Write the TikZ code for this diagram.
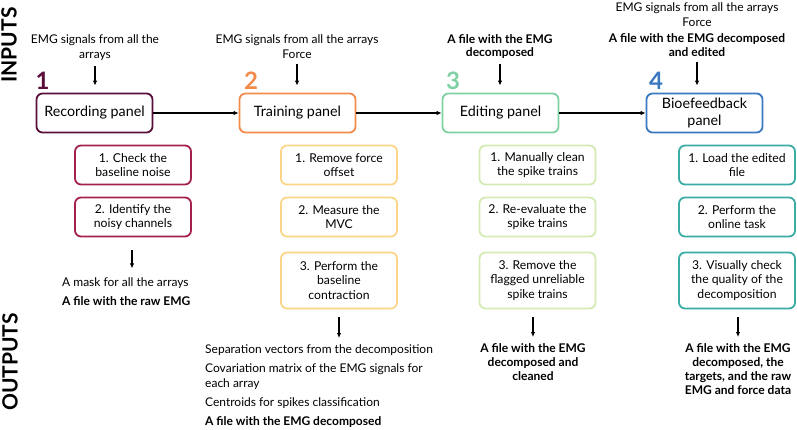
\documentclass[tikz,border=0pt]{standalone}
\usepackage{fontspec}
\setmainfont{Lato}
\usetikzlibrary{arrows.meta,calc}
\definecolor{cOne}{HTML}{5A0F3A}
\definecolor{cTwo}{HTML}{F28B4B}
\definecolor{cThree}{HTML}{7FD1A3}
\definecolor{cFour}{HTML}{3A78C0}
\definecolor{sOne}{HTML}{A3204F}
\definecolor{sTwo}{HTML}{FCD588}
\definecolor{sThree}{HTML}{D3EBB2}
\definecolor{sFour}{HTML}{3AACA5}
\tikzset{
  mainbox/.style={draw=#1, line width=1.8pt, rounded corners=6pt, minimum width=116pt, minimum height=39pt, align=center, inner sep=2pt, font=\fontsize{14.3}{17.5}\selectfont, fill=white},
  subbox/.style={draw=#1, line width=1.8pt, rounded corners=6pt, minimum width=116pt, minimum height=39pt, align=center, inner sep=2pt, font=\fontsize{12.2}{14.5}\selectfont},
  numlab/.style={text=#1, font=\fontsize{24}{24}\selectfont\bfseries, inner sep=0pt, anchor=base west},
  intext/.style={align=center, inner sep=1pt, font=\fontsize{12}{15.5}\selectfont},
  outtext/.style={inner sep=0pt, font=\fontsize{12}{15}\selectfont},
  arr/.style={line width=1.2pt, -{Latex[length=5pt,width=4.5pt]}},
  side/.style={rotate=90, font=\fontsize{21}{21}\selectfont\bfseries, inner sep=0pt}
}
\begin{document}
\begin{tikzpicture}[x=1pt,y=-1pt]
\useasboundingbox (0,0) rectangle (797,430);
% side labels
\node[side] (inputs) at (9,45) {INPUTS};
\node[side] (outputs) at (10,362) {OUTPUTS};
% main boxes
\node[mainbox=cOne] (rec) at (94.5,113) {Recording panel};
\node[mainbox=cTwo] (train) at (297.5,113) {Training panel};
\node[mainbox=cThree] (edit) at (500.5,113) {Editing panel};
\node[mainbox=cFour] (bio) at (704.5,113) {Bioefeedback\\panel};
% numbers
\node[numlab=cOne] (n1) at (35.5,89.5) {1};
\node[numlab=cTwo] (n2) at (244,89.5) {2};
\node[numlab=cThree] (n3) at (446,89.5) {3};
\node[numlab=cFour] (n4) at (649,89.5) {4};
% inputs
\node[intext] (in1) at (95,47.5) {EMG signals from all the\\arrays};
\node[intext] (in2) at (297,46.5) {EMG signals from all the arrays\\Force};
\node[intext, font=\fontsize{12}{13.5}\selectfont\bfseries] (in3) at (500,46.5) {A file with the EMG\\decomposed};
\node[intext, align=center] (in4) at (697,29.5) {EMG signals from all the arrays\\Force\\\textbf{A file with the EMG decomposed}\\[-1.5pt]\textbf{and edited}};
\draw[arr] ([yshift=-4pt]in1.south) -- ([yshift=7pt]in1.south |- rec.north);
\draw[arr] ([yshift=-4pt]in2.south) -- ([yshift=7pt]in2.south |- train.north);
\draw[arr] ([yshift=-4pt]in3.south) -- ([yshift=7pt]in3.south |- edit.north);
\draw[arr] ([yshift=-4pt]in4.south) -- ([yshift=7pt]in4.south |- bio.north);
% horizontal
\draw[arr] (rec) -- (train);
\draw[arr] (train) -- (edit);
\draw[arr] (edit) -- (bio);
% sub boxes column 1
\node[subbox=sOne] (a1) at (133,165) {1. Check the\\baseline noise};
\node[subbox=sOne] (a2) at (133,217) {2. Identify the\\noisy channels};
% column 2
\node[subbox=sTwo] (b1) at (339,165) {1. Remove force\\offset};
\node[subbox=sTwo] (b2) at (339,217) {2. Measure the\\MVC};
\node[subbox=sTwo, minimum height=56pt] (b3) at (339,280.5) {3. Perform the\\baseline\\contraction};
% column 3
\node[subbox=sThree] (c1) at (537.5,165) {1. Manually clean\\the spike trains};
\node[subbox=sThree] (c2) at (537.5,217) {2. Re-evaluate the\\spike trains};
\node[subbox=sThree, minimum height=56pt] (c3) at (537.5,280.5) {3. Remove the\\flagged unreliable\\spike trains};
% column 4
\node[subbox=sFour] (d1) at (737,165) {1. Load the edited\\file};
\node[subbox=sFour] (d2) at (737,217) {2. Perform the\\online task};
\node[subbox=sFour, minimum height=56pt] (d3) at (737,280.5) {3. Visually check\\the quality of the\\decomposition};
% outputs
\node[outtext, anchor=north west, align=left] (o1) at (62,277) {A mask for all the arrays\\[4pt]\textbf{A file with the raw EMG}};
\node[outtext, anchor=north west, align=left] (o2) at (205,344) {Separation vectors from the decomposition\\[4pt]Covariation matrix of the EMG signals for\\each array\\[4pt]Centroids for spikes classification\\[4pt]\textbf{A file with the EMG decomposed}};
\node[outtext, anchor=north, align=center, font=\fontsize{12}{14}\selectfont\bfseries] (o3) at (533,343) {A file with the EMG\\decomposed and\\cleaned};
\node[outtext, anchor=north, align=center, font=\fontsize{12}{14}\selectfont\bfseries] (o4) at (738,343) {A file with the EMG\\decomposed, the\\targets, and the raw\\EMG and force data};
\draw[arr] ([yshift=-13pt]a2.south -| o1.north west) ++(70,0) -- ++(0,18);
\draw[arr] ([yshift=-8pt]b3.south) -- ([yshift=6pt]b3.south |- o2.north);
\draw[arr] ([yshift=-8pt]c3.south -| o3.north) -- ([yshift=6pt]o3.north);
\draw[arr] ([yshift=-8pt]d3.south -| o4.north) -- ([yshift=6pt]o4.north);
\end{tikzpicture}
\end{document}
